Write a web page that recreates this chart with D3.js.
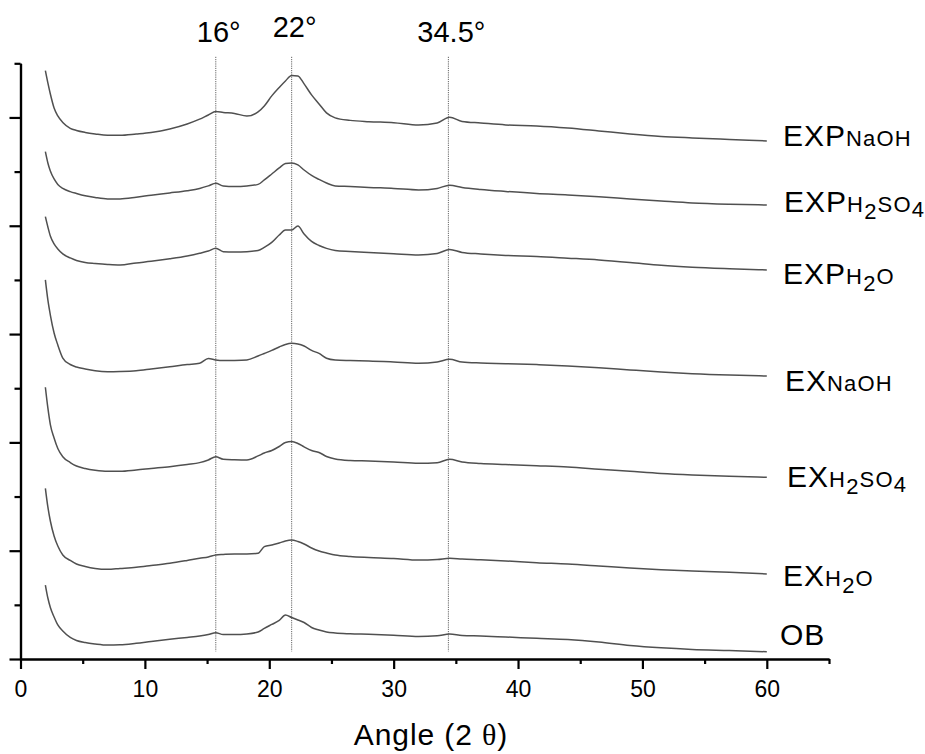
<!DOCTYPE html>
<html>
<head>
<meta charset="utf-8">
<script src="https://cdn.jsdelivr.net/npm/d3@7"></script>
<style>
  html, body { margin: 0; padding: 0; background: #fff; }
  svg { display: block; }
  text { font-family: Arial, "Liberation Sans", sans-serif; fill: #000; }
</style>
</head>
<body>
<svg id="chart" width="925" height="754"></svg>
<script>
// ---------------- data ----------------
const angles = [2,2.2,2.4,2.7,3,3.4,4,4.5,5.2,6,7,8,9.3,10.5,12,13.4,14.4,15.1,15.7,16.3,17.2,18.2,19.1,19.6,20.2,20.8,21.3,21.8,22.3,22.8,23.4,24,24.6,25.3,26.5,28,30,32,33.5,34.5,35.5,37,39,41.5,44,46.5,49,51.5,54,57,60];

const expNaOH = [543.2,531.9,521.7,508.8,501.4,495.4,490.0,488.0,486.2,484.8,483.6,483.6,484.8,486.2,489.4,494.0,498.4,502.3,505.4,504.6,503.7,501.4,505.1,510.6,519.9,527.7,533.7,538.8,538.3,531.0,520.8,512.5,504.2,499.6,497.3,496.1,495.2,493.1,494.9,500.2,496.3,494.9,493.1,492.2,490.3,487.6,484.8,482.5,481.1,479.7,478.3];
const expH2SO4 = [468.4,458.0,450.6,443.2,438.2,434.5,431.5,429.8,427.7,426.1,424.8,424.8,426.3,428.2,430.3,432.4,434.5,436.8,439.3,436.8,436.3,436.8,438.2,442.3,447.8,453.4,457.5,458.0,456.2,451.5,446.5,442.8,439.5,436.8,436.3,435.4,434.5,433.1,434.5,437.4,435.4,433.5,431.7,429.8,428.5,426.8,424.8,422.9,421.1,419.9,419.2];
const expH2O = [408.4,398.9,390.6,383.2,378.6,374.0,370.3,368.0,366.1,365.2,364.3,363.8,365.7,367.2,369.5,372.1,374.6,376.7,379.2,376.1,375.8,376.1,377.2,380.0,384.6,391.5,396.1,396.1,399.8,392.4,385.5,381.8,379.1,377.2,376.3,375.4,374.2,373.1,374.4,378.1,375.4,374.0,372.6,371.7,370.1,368.4,366.1,363.5,361.7,360.3,359.2];
const exNaOH = [350.0,331.5,317.6,301.0,289.9,277.9,271.9,269.6,267.8,266.2,265.3,265.5,266.2,267.8,269.9,271.9,273.0,277.5,276.1,275.5,275.6,276.1,279.8,282.1,284.9,288.1,290.4,291.5,290.9,289.0,284.9,282.1,277.7,276.1,275.6,275.2,274.2,273.0,274.2,276.7,274.2,273.3,272.7,271.8,270.6,268.9,266.9,265.0,263.4,262.1,261.3];
const exH2SO4 = [250.9,231.8,216.5,204.1,194.4,186.8,181.4,178.2,175.9,174.3,173.3,173.3,174.5,175.9,177.6,179.6,181.3,183.8,186.8,184.4,184.0,183.8,187.5,190.2,192.5,196.2,199.9,200.7,199.0,195.8,192.5,190.7,187.0,184.7,183.3,182.8,181.9,180.7,181.3,184.4,181.9,180.5,179.6,178.5,177.3,175.3,173.3,171.3,169.9,168.7,167.8];
const exH2O = [157.6,140.4,127.4,113.6,104.3,96.0,91.0,87.7,85.4,83.6,82.8,83.6,84.7,86.3,88.4,91.0,93.0,94.2,96.0,96.5,97.0,97.0,97.6,103.7,105.3,107.1,109.0,109.9,108.5,106.2,102.5,99.7,97.9,96.0,94.6,93.7,92.8,91.4,91.9,93.0,92.3,91.6,90.5,88.9,87.7,85.9,84.0,82.4,81.3,80.1,78.5];
const ob = [68.3,56.3,47.6,38.8,31.4,25.9,19.9,17.1,15.2,13.9,12.9,13.1,14.5,16.2,18.2,19.9,21.2,22.6,24.3,22.6,22.6,23.1,24.9,28.2,31.9,35.6,40.6,38.3,36.0,33.7,29.1,26.8,24.9,24.0,23.3,22.8,21.9,20.8,21.4,23.1,21.7,21.2,20.3,19.1,18.0,15.7,12.5,10.3,8.8,7.8,6.7];

const seriesNames = ["EXPNaOH","EXPH2SO4","EXPH2O","EXNaOH","EXH2SO4","EXH2O","OB"];
const seriesValues = [expNaOH, expH2SO4, expH2O, exNaOH, exH2SO4, exH2O, ob];
const labelMain = ["EXP","EXP","EXP","EX","EX","EX","OB"];
// suffix parts: [text, kind] kind 0 = small letters, 1 = lowered "2", 2 = lowered "4"
const labelSub = [
  [["NaOH",0]],
  [["H",0],["2",1],["SO",0],["4",2]],
  [["H",0],["2",1],["O",0]],
  [["NaOH",0]],
  [["H",0],["2",1],["SO",0],["4",2]],
  [["H",0],["2",1],["O",0]],
  []
];

const peakAngles = [15.7, 21.8, 34.4];
const peakLabels = ["16°", "22°", "34.5°"];

const xMajorTicks = [0,10,20,30,40,50,60];
const xMinorTicks = [5,15,25,35,45,55,65];
const yMajorTicks = [0,100,200,300,400,500];
const yMinorTicks = [50,150,250,350,450,550];

// ---------------- layout ----------------
const svg = d3.select("#chart");
const x = d3.scaleLinear().domain([0, 65]).range([20.5, 829]);
const y = d3.scaleLinear().domain([0, 550]).range([659, 63.3]);

const labelPos = [[783,146],[784,212],[783,284],[785,391],[787,487],[783,586],[780,645]];
const peakLabelBaseline = [42, 37, 42];

// ---------------- peak guide lines ----------------
svg.append("g").selectAll("line").data(peakAngles).join("line")
  .attr("x1", d => x(d)).attr("x2", d => x(d))
  .attr("y1", y(556)).attr("y2", y(7))
  .attr("stroke", "#666").attr("stroke-width", 1)
  .attr("stroke-dasharray", "1.2,1");

svg.append("g").selectAll("text").data(peakAngles).join("text")
  .attr("x", d => x(d) + 3)
  .attr("y", (d, i) => peakLabelBaseline[i])
  .attr("text-anchor", "middle")
  .style("font-size", "29px")
  .text((d, i) => peakLabels[i]);

// ---------------- traces ----------------
const line = d3.line()
  .x((d, i) => x(angles[i]))
  .y(d => y(d))
  .curve(d3.curveMonotoneX);

svg.append("g").selectAll("path").data(seriesValues).join("path")
  .attr("d", d => line(d))
  .attr("fill", "none")
  .attr("stroke", "#505050")
  .attr("stroke-width", 1.5)
  .attr("stroke-linejoin", "round");

// ---------------- series labels ----------------
seriesNames.forEach((name, i) => {
  const t = svg.append("text")
    .attr("x", labelPos[i][0]).attr("y", labelPos[i][1]);
  t.append("tspan").style("font-size", "30px").style("letter-spacing", "1px").text(labelMain[i]);
  let shift = 0;
  labelSub[i].forEach(([s, kind]) => {
    const target = kind === 1 ? 7 : (kind === 2 ? 5 : 0);
    t.append("tspan")
      .attr("dy", target - shift)
      .style("font-size", "22px")
      .style("letter-spacing", "1.2px")
      .text(s);
    shift = target;
  });
});

// ---------------- axes ----------------
const axisG = svg.append("g");

const xMajor = d3.axisBottom(x).tickValues(xMajorTicks).tickSize(10).tickSizeOuter(0).tickPadding(12).tickFormat(d3.format("d"));
const xMinor = d3.axisBottom(x).tickValues(xMinorTicks).tickSize(5).tickSizeOuter(0).tickFormat("");
const yMajor = d3.axisLeft(y).tickValues(yMajorTicks).tickSize(11).tickSizeOuter(0).tickFormat("");
const yMinor = d3.axisLeft(y).tickValues(yMinorTicks).tickSize(6).tickSizeOuter(0).tickFormat("");

function styleAxis(g) {
  g.selectAll("path.domain").attr("stroke", "#000").attr("stroke-width", 2.2);
  g.selectAll(".tick line").attr("stroke", "#000").attr("stroke-width", 2.2);
  g.selectAll(".tick text").style("font-size", "23px").attr("fill", "#000")
    .style("font-family", "Arial, 'Liberation Sans', sans-serif");
}

axisG.append("g").attr("transform", `translate(0,${y(0)})`).call(xMinor).call(styleAxis);
axisG.append("g").attr("transform", `translate(0,${y(0)})`).call(xMajor).call(styleAxis);
axisG.append("g").attr("transform", `translate(${x(0)},0)`).call(yMinor).call(styleAxis);
axisG.append("g").attr("transform", `translate(${x(0)},0)`).call(yMajor).call(styleAxis);

// axis title
const title = svg.append("text")
  .attr("x", 431).attr("y", 745)
  .attr("text-anchor", "middle")
  .style("font-size", "30px")
  .style("letter-spacing", "0.9px");
title.append("tspan").text("Angle (2 ");
title.append("tspan").style("font-family", "'Liberation Serif', 'DejaVu Serif', serif").text("θ");
title.append("tspan").text(")");
</script>
</body>
</html>
